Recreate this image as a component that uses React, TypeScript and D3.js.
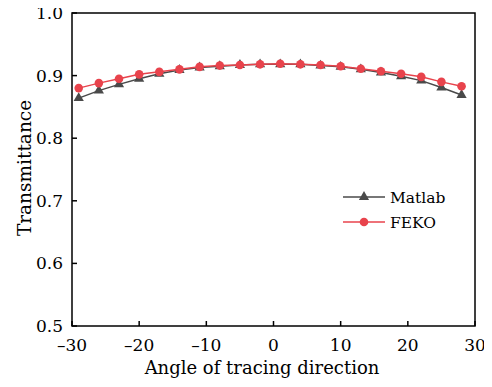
import React, { useRef, useEffect } from "react";
import * as d3 from "d3";

const angles = [-29, -26, -23, -20, -17, -14, -11, -8, -5, -2, 1, 4, 7, 10, 13, 16, 19, 22, 25, 28];
const matlab = [0.864, 0.876, 0.886, 0.895, 0.903, 0.909, 0.913, 0.915, 0.917, 0.918, 0.918, 0.918, 0.916, 0.914, 0.910, 0.905, 0.899, 0.892, 0.881, 0.869];
const feko = [0.880, 0.888, 0.895, 0.902, 0.906, 0.910, 0.914, 0.916, 0.917, 0.918, 0.919, 0.918, 0.917, 0.915, 0.911, 0.907, 0.903, 0.898, 0.890, 0.883];
const xTicks = [-30, -20, -10, 0, 10, 20, 30];
const yTicks = [0.5, 0.6, 0.7, 0.8, 0.9, 1.0];

const font = "'DejaVu Serif', serif";

const App = () => {
  const ref = useRef<SVGSVGElement>(null);

  useEffect(() => {
    const svg = d3.select(ref.current);
    svg.selectAll("*").remove();

    const left = 72, right = 475, top = 13, bottom = 326;
    const x = d3.scaleLinear().domain([-30, 30]).range([left, right]);
    const y = d3.scaleLinear().domain([0.5, 1.0]).range([bottom, top]);

    // frame
    svg.append("rect")
      .attr("x", left).attr("y", top)
      .attr("width", right - left).attr("height", bottom - top)
      .attr("fill", "none").attr("stroke", "#000").attr("stroke-width", 1.5);

    // ticks (inward)
    svg.append("g").selectAll("line").data(xTicks).enter().append("line")
      .attr("x1", (d) => x(d)).attr("x2", (d) => x(d))
      .attr("y1", bottom).attr("y2", bottom - 5)
      .attr("stroke", "#000").attr("stroke-width", 1.5);
    svg.append("g").selectAll("text").data(xTicks).enter().append("text")
      .attr("x", (d) => x(d)).attr("y", 351)
      .attr("text-anchor", "middle")
      .style("font-family", font).style("font-size", "17px")
      .text((d) => (d < 0 ? "\u2013" + Math.abs(d) : String(d)));

    svg.append("g").selectAll("line").data(yTicks).enter().append("line")
      .attr("x1", left).attr("x2", left + 5)
      .attr("y1", (d) => y(d)).attr("y2", (d) => y(d))
      .attr("stroke", "#000").attr("stroke-width", 1.5);
    svg.append("g").selectAll("text").data(yTicks).enter().append("text")
      .attr("x", left - 9).attr("y", (d) => y(d) + 6)
      .attr("text-anchor", "end")
      .style("font-family", font).style("font-size", "17px")
      .text((d) => d3.format(".1f")(d));

    // axis titles
    svg.append("text")
      .attr("x", 262).attr("y", 374)
      .attr("text-anchor", "middle")
      .style("font-family", font).style("font-size", "18px")
      .text("Angle of tracing direction");
    svg.append("text")
      .attr("transform", "translate(31,168) rotate(-90)")
      .attr("text-anchor", "middle")
      .style("font-family", font).style("font-size", "18.5px")
      .text("Transmittance");

    const series = [
      { name: "Matlab", values: matlab, color: "#4a4a4a", marker: "tri" },
      { name: "FEKO", values: feko, color: "#e8434c", marker: "circle" },
    ];

    const line = d3.line<number>()
      .x((d, i) => x(angles[i]))
      .y((d) => y(d));

    const tri = d3.symbol().type(d3.symbolTriangle).size(45);

    series.forEach((s) => {
      svg.append("path")
        .attr("d", line(s.values))
        .attr("fill", "none").attr("stroke", s.color).attr("stroke-width", 1.5);
      const g = svg.append("g");
      if (s.marker === "tri") {
        g.selectAll("path").data(s.values).enter().append("path")
          .attr("d", tri())
          .attr("transform", (d, i) => `translate(${x(angles[i])},${y(d)})`)
          .attr("fill", s.color);
      } else {
        g.selectAll("circle").data(s.values).enter().append("circle")
          .attr("cx", (d, i) => x(angles[i])).attr("cy", (d) => y(d))
          .attr("r", 4.3).attr("fill", s.color);
      }
    });

    // legend
    const legend = svg.append("g");
    series.forEach((s, i) => {
      const ly = 197 + i * 25;
      legend.append("line")
        .attr("x1", 343).attr("x2", 385).attr("y1", ly).attr("y2", ly)
        .attr("stroke", s.color).attr("stroke-width", 1.5);
      if (s.marker === "tri") {
        legend.append("path").attr("d", tri())
          .attr("transform", `translate(364,${ly})`).attr("fill", s.color);
      } else {
        legend.append("circle").attr("cx", 364).attr("cy", ly).attr("r", 4.3).attr("fill", s.color);
      }
      legend.append("text")
        .attr("x", 390).attr("y", ly + 6)
        .style("font-family", font).style("font-size", "15.5px")
        .text(s.name);
    });
  }, []);

  return (
    <div style={{ margin: -8 }}>
      <svg ref={ref} width={492} height={387} style={{ display: "block", background: "#fff" }} />
    </div>
  );
};

export default App;
